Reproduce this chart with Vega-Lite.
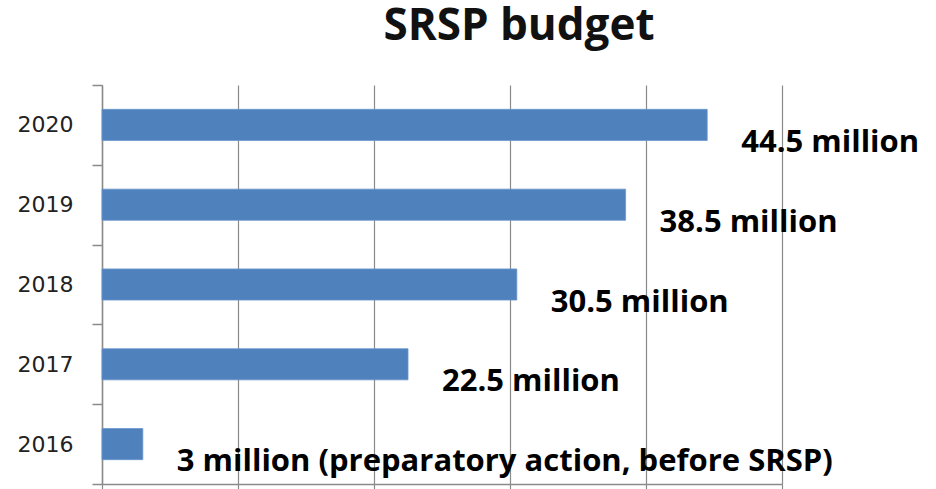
{
  "$schema": "https://vega.github.io/schema/vega-lite/v6.json",
  "width": 680,
  "height": 399,
  "autosize": {"type": "none"},
  "padding": {"left": 102, "top": 85, "right": 154, "bottom": 5},
  "background": "white",
  "title": {
    "text": "SRSP budget",
    "font": "Open Sans",
    "fontSize": 44,
    "fontWeight": "bold",
    "color": "#111111",
    "anchor": "middle",
    "frame": "group",
    "dx": 77,
    "baseline": "alphabetic",
    "offset": -10
  },
  "data": {
    "values": [
      {"year": "2020", "budget": 44.5, "label": "44.5 million"},
      {"year": "2019", "budget": 38.5, "label": "38.5 million"},
      {"year": "2018", "budget": 30.5, "label": "30.5 million"},
      {"year": "2017", "budget": 22.5, "label": "22.5 million"},
      {"year": "2016", "budget": 3, "label": "3 million (preparatory action, before SRSP)"}
    ]
  },
  "config": {
    "view": {"stroke": null}
  },
  "encoding": {
    "y": {
      "field": "year",
      "type": "nominal",
      "sort": ["2020", "2019", "2018", "2017", "2016"],
      "scale": {"paddingInner": 0, "paddingOuter": 0},
      "axis": {
        "title": null,
        "tickBand": "extent",
        "grid": false,
        "domainColor": "#8a8a8a",
        "domainWidth": 1.5,
        "tickColor": "#8a8a8a",
        "tickWidth": 1.5,
        "tickSize": 10,
        "labelFont": "DejaVu Sans",
        "labelFontSize": 22,
        "labelColor": "#222222",
        "labelPadding": 19
      }
    }
  },
  "layer": [
    {
      "mark": {"type": "bar", "color": "#4F81BD", "height": {"band": 0.39}, "stroke": "#6a96cc", "strokeWidth": 0.8},
      "encoding": {
        "x": {
          "field": "budget",
          "type": "quantitative",
          "scale": {"domain": [0, 50], "nice": false, "zero": true},
          "axis": {
            "title": null,
            "values": [0, 10, 20, 30, 40, 50],
            "labels": false,
            "grid": true,
            "gridColor": "#8a8a8a",
            "gridWidth": 1.2,
            "gridOpacity": 1,
            "domainColor": "#8a8a8a",
            "domainWidth": 1.5,
            "tickColor": "#8a8a8a",
            "tickWidth": 1.2,
            "tickSize": 5
          }
        }
      }
    },
    {
      "mark": {
        "type": "text",
        "align": "left",
        "baseline": "middle",
        "dx": 34,
        "dy": 18,
        "font": "Open Sans",
        "fontSize": 31,
        "fontWeight": "bold",
        "color": "#000000"
      },
      "encoding": {
        "x": {"field": "budget", "type": "quantitative"},
        "text": {"field": "label"}
      }
    }
  ]
}
